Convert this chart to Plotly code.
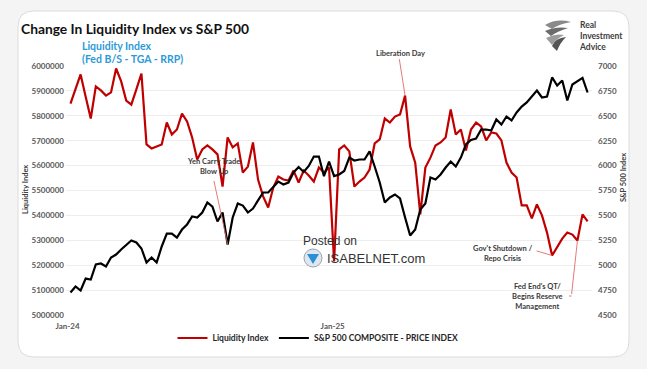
import plotly.graph_objects as go
import pandas as pd

W, H = 647, 369
L, R, T, B = 66, 55, 66, 54

# ---------------- data ----------------
start_date = "2024-01-05"
n_weeks = 103

liquidity = [
    5849000, 5906000, 5966000, 5877000, 5789000, 5918000, 5902000, 5881000, 5894000, 5990000,
    5938000, 5861000, 5845000, 5906000, 5970000, 5685000, 5669000, 5677000, 5685000, 5773000,
    5725000, 5745000, 5809000, 5777000, 5713000, 5624000, 5665000, 5681000, 5665000, 5645000,
    5516000, 5713000, 5673000, 5689000, 5572000, 5596000, 5693000, 5544000, 5476000, 5432000,
    5512000, 5556000, 5544000, 5540000, 5580000, 5532000, 5580000, 5560000, 5536000, 5592000,
    5572000, 5592000, 5215000, 5665000, 5681000, 5657000, 5516000, 5536000, 5552000, 5584000,
    5689000, 5705000, 5789000, 5773000, 5797000, 5805000, 5881000, 5677000, 5612000, 5404000,
    5592000, 5632000, 5681000, 5693000, 5713000, 5825000, 5725000, 5745000, 5661000, 5745000,
    5773000, 5757000, 5701000, 5733000, 5729000, 5701000, 5612000, 5572000, 5552000, 5440000,
    5440000, 5388000, 5444000, 5400000, 5331000, 5239000, 5275000, 5307000, 5331000, 5323000,
    5299000, 5404000, 5376000,
]

spx = [
    4726, 4786, 4746, 4866, 4856, 5007, 5017, 4987, 5077, 5107,
    5158, 5208, 5248, 5228, 5168, 5027, 5077, 5027, 5188, 5318,
    5318, 5278, 5358, 5409, 5489, 5479, 5529, 5630, 5589, 5439,
    5529, 5208, 5479, 5619, 5599, 5529, 5569, 5650, 5730, 5730,
    5780, 5840, 5810, 5830, 5931, 5986, 5936, 5996, 6091, 6091,
    5894, 6041, 5894, 5911, 5946, 6081, 6051, 6061, 6061, 6142,
    5991, 5830, 5630, 5680, 5710, 5670, 5479, 5298, 5358, 5559,
    5619, 5881, 5860, 5911, 5981, 6041, 5991, 6081, 6212, 6257,
    6272, 6362, 6362, 6352, 6463, 6413, 6493, 6453, 6533, 6593,
    6634, 6694, 6754, 6684, 6694, 6885, 6804, 6854, 6654, 6814,
    6844, 6880, 6734,
]

left_ticks = [5000000, 5100000, 5200000, 5300000, 5400000, 5500000,
              5600000, 5700000, 5800000, 5900000, 6000000]
right_ticks = [4500, 4750, 5000, 5250, 5500, 5750, 6000, 6250, 6500, 6750, 7000]
x_tick_dates = ["2024-01-01", "2025-01-01"]
x_tick_labels = ["Jan-24", "Jan-25"]

# annotation events: index into series
idx_liberation = 66
idx_yen = 31
idx_shutdown = 95
idx_fed = 100

dates = pd.date_range(start_date, periods=n_weeks, freq="7D")

RED = "#c00000"
BLACK = "#000000"
PTR = "#e06b6b"
TXT = "#3a3a3a"
FONT = "Lato"


def fx(px):
    return (px - L) / (W - L - R)


def fy(py):
    return (H - B - py) / (H - T - B)


fig = go.Figure()
fig.add_trace(go.Scatter(x=dates, y=liquidity, name="Liquidity Index", mode="lines",
                         line=dict(color=RED, width=2.2), yaxis="y"))
fig.add_trace(go.Scatter(x=dates, y=spx, name="S&P 500 COMPOSITE - PRICE INDEX", mode="lines",
                         line=dict(color=BLACK, width=2.2), yaxis="y2"))

tickfont = dict(family=FONT, size=8, color="#595959", weight="bold")

fig.update_layout(
    width=W, height=H,
    margin=dict(l=L, r=R, t=T, b=B, pad=0),
    paper_bgcolor="#f4f4f4",
    plot_bgcolor="rgba(0,0,0,0)",
    font=dict(family=FONT, color=TXT),
    showlegend=True,
    legend=dict(orientation="h", x=fx(318), xanchor="center", y=fy(338), yanchor="middle",
                font=dict(family=FONT, size=8.5, color="#262626", weight="bold"),
                bgcolor="rgba(0,0,0,0)", itemwidth=30, tracegroupgap=0),
    xaxis=dict(type="date", range=["2023-12-29 20:00", "2025-12-25 02:00"],
               tickvals=x_tick_dates, ticktext=x_tick_labels, showgrid=False,
               showline=False, zeroline=False, ticks="", tickfont=tickfont,
               ticklabelstandoff=5, automargin=False),
    yaxis=dict(range=[5000000, 6000000], tickvals=left_ticks,
               ticktext=[str(v) for v in left_ticks], showgrid=True,
               gridcolor="#ededed", gridwidth=1, zeroline=False, showline=False,
               ticks="", tickfont=tickfont, ticklabelstandoff=1, automargin=False),
    yaxis2=dict(range=[4500, 7000], tickvals=right_ticks, overlaying="y", side="right",
                showgrid=False, zeroline=False, showline=False, ticks="",
                tickfont=tickfont, ticklabelstandoff=5, automargin=False),
)


def ppath(cmds):
    s = ""
    for c in cmds:
        s += c[0] + " " + " ".join(f"{fx(a):.5f},{fy(b):.5f}" for a, b in c[1:]) + " "
    return s + "Z"


def rrect(x0, y0, x1, y1, r):
    return ppath([
        ("M", (x0 + r, y0)), ("L", (x1 - r, y0)), ("Q", (x1, y0), (x1, y0 + r)),
        ("L", (x1, y1 - r)), ("Q", (x1, y1), (x1 - r, y1)), ("L", (x0 + r, y1)),
        ("Q", (x0, y1), (x0, y1 - r)), ("L", (x0, y0 + r)), ("Q", (x0, y0), (x0 + r, y0)),
    ])


shapes = [
    dict(type="path", xref="paper", yref="paper", path=rrect(18, 11, 629, 357, 16),
         fillcolor="white", line=dict(color="#dcdcdc", width=1), layer="below"),
]

# eagle-like logo (decorative)
logo = [
    ([("M", (545, 25)), ("Q", (557, 18), (571, 22)), ("Q", (559, 24), (552, 29))], "#8a8a8a"),
    ([("M", (545, 31)), ("Q", (556, 26), (568, 28)), ("Q", (558, 31), (551, 36))], "#6c6c6c"),
    ([("M", (546, 38)), ("Q", (555, 33), (564, 35)), ("Q", (556, 39), (552, 45))], "#9c9c9c"),
    ([("M", (552, 46)), ("Q", (555, 38), (566, 37)), ("Q", (560, 43), (557, 51))], "#555555"),
]
for cmds, col in logo:
    shapes.append(dict(type="path", xref="paper", yref="paper", path=ppath(cmds),
                       fillcolor=col, line=dict(width=0)))

# isabelnet icon
shapes.append(dict(type="circle", xref="paper", yref="paper",
                   x0=fx(304), x1=fx(322), y0=fy(267), y1=fy(249),
                   fillcolor="#dfe6ee", line=dict(color="#9aa3ad", width=1)))
shapes.append(dict(type="path", xref="paper", yref="paper",
                   path=ppath([("M", (307, 254)), ("L", (319, 254)), ("L", (313, 264))]),
                   fillcolor="#2a8fd6", line=dict(width=0)))

fig.update_layout(shapes=shapes)

ann = []


def text(px, py, s, size=7.5, color=TXT, anchor="center", bold=True, family=FONT,
         yanchor="middle", angle=0, align="center"):
    ann.append(dict(xref="paper", yref="paper", x=fx(px), y=fy(py), text=s, showarrow=False,
                    xanchor=anchor, yanchor=yanchor, textangle=angle, align=align,
                    font=dict(family=family, size=size, color=color,
                              weight="bold" if bold else "normal")))


text(19, 29, "Change In Liquidity Index vs S&P 500", size=13.8, color="#111111", anchor="left")
text(80, 46, "Liquidity Index", size=10.5, color="#2c9ad8", anchor="left")
text(80, 59, "(Fed B/S - TGA - RRP)", size=10.5, color="#2c9ad8", anchor="left")
text(577, 36, "Real<br>Investment<br>Advice", size=8.5, color="#3d3d3d", anchor="left",
     align="left")

text(400, 53, "Liberation Day")
text(213, 166, "Yen Carry Trade<br>Blow Up")
text(503, 253.5, "Gov't Shutdown /<br>Repo Crisis")
text(537, 296, "Fed End's QT/<br>Begins Reserve<br>Management")

text(330, 241, "Posted on", size=12, color="#333333", bold=False, family="Liberation Sans")
text(325, 258.5, "ISABELNET.com", size=13, color="#333333", bold=False,
     family="Liberation Sans", anchor="left")

text(25, 190, "Liquidity Index", size=7.5, color="#404040", angle=-90)
text(623, 178, "S&P 500 Index", size=7.5, color="#404040", angle=-90)


def pointer(i, series, yref, ax, ay):
    ann.append(dict(x=dates[i], y=series[i], xref="x", yref=yref, text="", showarrow=True,
                    arrowhead=0, arrowwidth=0.9, arrowcolor=PTR, ax=ax, ay=ay, standoff=0))


pointer(idx_liberation, liquidity, "y", -6, -38)
pointer(idx_yen, spx, "y2", -14, -65)
pointer(idx_shutdown, liquidity, "y", -17, -5)
pointer(idx_fed, liquidity, "y", -6, 55)
ann.append(dict(xref="paper", yref="paper", x=fx(571.5), y=fy(296), text="", showarrow=True,
                arrowhead=0, arrowwidth=0.9, arrowcolor=PTR, ax=-4, ay=0, standoff=0))

fig.update_layout(annotations=ann)

fig.write_html("out.html", config={"displayModeBar": False},
               post_script="document.body.style.margin='0px';"
                           "document.body.style.overflow='hidden';")
